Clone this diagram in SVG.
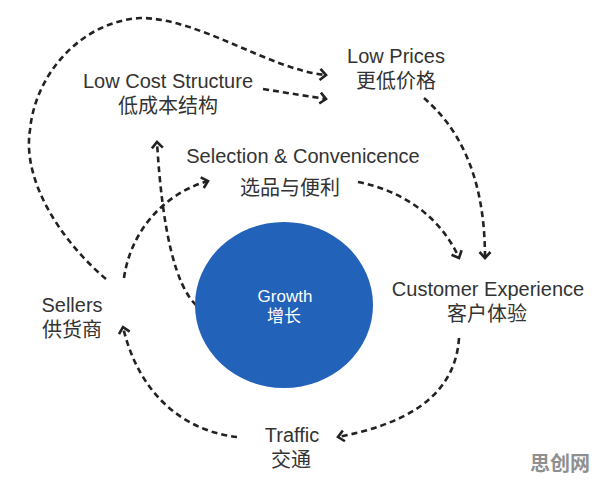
<svg xmlns="http://www.w3.org/2000/svg" width="596" height="481" viewBox="0 0 596 481">
<style>
.lbl{font-family:"Liberation Sans","Noto Sans CJK SC",sans-serif;fill:#333;text-anchor:middle}
.en{font-size:20px}
.cn{font-size:20px}
.gr{font-family:"Liberation Sans","Noto Sans CJK SC",sans-serif;fill:#fff;text-anchor:middle;font-size:17px}
.c{fill:none;stroke:#222;stroke-width:2.6;stroke-dasharray:6 4;marker-end:url(#ah)}
</style>
<defs>
<marker id="ah" viewBox="0 0 10 14" refX="8" refY="7" markerWidth="10" markerHeight="14" markerUnits="userSpaceOnUse" orient="auto">
<path d="M2,1.5 L8,7 L2,12.5" fill="none" stroke="#222" stroke-width="2.6"/>
</marker>
</defs>
<rect width="596" height="481" fill="#fff"/>
<g id="connectors">
<path class="c" d="M106,279 C60,240 22,180 30,130 C35,75 80,22 140,18 C200,18 270,70 326,75"/>
<path class="c" d="M263,89 Q300,95 326,99"/>
<path class="c" d="M196,305 Q165,275 157,142"/>
<path class="c" d="M124,278 C130,235 160,195 208,181"/>
<path class="c" d="M358,182 C400,190 440,215 459,258"/>
<path class="c" d="M424,98 C455,125 485,170 485,258"/>
<path class="c" d="M459,338 C455,400 400,425 338,437"/>
<path class="c" d="M237,437 C190,432 140,400 123,327"/>
</g>
<g id="growth">
<ellipse cx="284" cy="305" rx="89" ry="83" fill="#2262b8"/>
<text class="gr" x="285" y="302">Growth</text>
<text class="gr" x="284" y="322">增长</text>
</g>
<g id="low-cost">
<text class="lbl en" x="168" y="88">Low Cost Structure</text>
<text class="lbl cn" x="168" y="113">低成本结构</text>
</g>
<g id="low-prices">
<text class="lbl en" x="396" y="63">Low Prices</text>
<text class="lbl cn" x="396" y="88">更低价格</text>
</g>
<g id="selection">
<text class="lbl en" x="303" y="163">Selection &amp; Convenicence</text>
<text class="lbl cn" x="290" y="195">选品与便利</text>
</g>
<g id="customer">
<text class="lbl en" x="488" y="296">Customer Experience</text>
<text class="lbl cn" x="487" y="321">客户体验</text>
</g>
<g id="sellers">
<text class="lbl en" x="72" y="312">Sellers</text>
<text class="lbl cn" x="72" y="337">供货商</text>
</g>
<g id="traffic">
<text class="lbl en" x="292" y="442">Traffic</text>
<text class="lbl cn" x="291" y="467">交通</text>
</g>
<text x="560" y="471" text-anchor="middle" style="font-family:'Liberation Sans','Noto Sans CJK SC',sans-serif;font-size:20px;font-weight:bold;fill:#8f8f8f">思创网</text>
</svg>
